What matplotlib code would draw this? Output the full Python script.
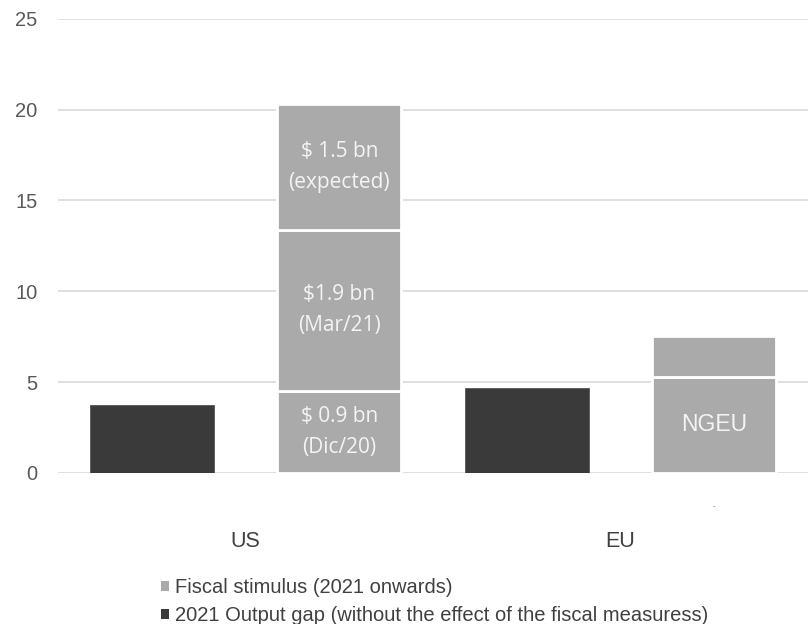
import numpy as np
import matplotlib.pyplot as plt
from matplotlib.patches import Patch

plt.rcParams['font.family'] = ['Liberation Sans', 'DejaVu Sans']

regions = ['US', 'EU']
output_gap = [3.75, 4.7]

# stacked fiscal stimulus segments (bottom to top)
us_stimulus = [4.5, 8.9, 6.9]
us_labels = ['$ 0.9 bn\n(Dic/20)', '$1.9 bn\n(Mar/21)', '$ 1.5 bn\n(expected)']
eu_stimulus = [5.3, 2.25]
eu_labels = ['NGEU', '']

dark = '#3a3a3a'
grey = '#aaaaaa'

fig = plt.figure(figsize=(8.08, 6.24), dpi=100)
ax = fig.add_axes([0.072, 0.242, 0.928, 0.728])

x = np.arange(len(regions))
w = 0.33
off = 0.25

ax.bar(x - off, output_gap, width=w, color=dark, edgecolor='#555555',
       linewidth=0.6, zorder=3)

def stack(xpos, values, labels, font, size):
    bottom = 0
    for v, lab in zip(values, labels):
        ax.bar(xpos, v, bottom=bottom, width=w, color=grey, edgecolor='white',
               linewidth=2, zorder=3)
        if lab:
            ax.text(xpos, bottom + v / 2, lab, ha='center', va='center',
                    color='#f4f4f4', fontsize=size, family=font,
                    linespacing=1.62, zorder=4)
        bottom += v

stack(x[0] + off, us_stimulus, us_labels, ['Open Sans', 'DejaVu Sans'], 15)
stack(x[1] + off, eu_stimulus, eu_labels, ['Liberation Sans', 'DejaVu Sans'], 16.5)

# stray tick mark under the EU stimulus bar
ax.text(x[1] + off, -1.85, '-', ha='center', va='center', fontsize=6,
        color='#777777')

ax.set_xlim(-0.5, 1.5)
ax.set_ylim(0, 25)
ax.set_yticks(np.arange(0, 26, 5))
ax.set_xticks(x)
ax.set_xticklabels(regions)
ax.tick_params(axis='x', length=0, pad=42, labelsize=15.5, labelcolor='#404040')
ax.tick_params(axis='y', length=0, pad=15, labelsize=14.5, labelcolor='#595959')
ax.grid(axis='y', color='#d9d9d9', linewidth=1.2, zorder=0)
ax.set_axisbelow(True)
for s in ax.spines.values():
    s.set_visible(False)

handles = [Patch(facecolor=grey, edgecolor='none'),
           Patch(facecolor=dark, edgecolor='none')]
names = ['Fiscal stimulus (2021 onwards)',
         '2021 Output gap (without the effect of the fiscal measuress)']
fig.legend(handles, names, loc='upper left', bbox_to_anchor=(0.199, 0.074),
           frameon=False, fontsize=14.5, handlelength=0.4, handleheight=0.4,
           handletextpad=0.3, labelspacing=0.48, borderpad=0, borderaxespad=0,
           labelcolor='#404040')

fig.savefig('out.png', dpi=100)
